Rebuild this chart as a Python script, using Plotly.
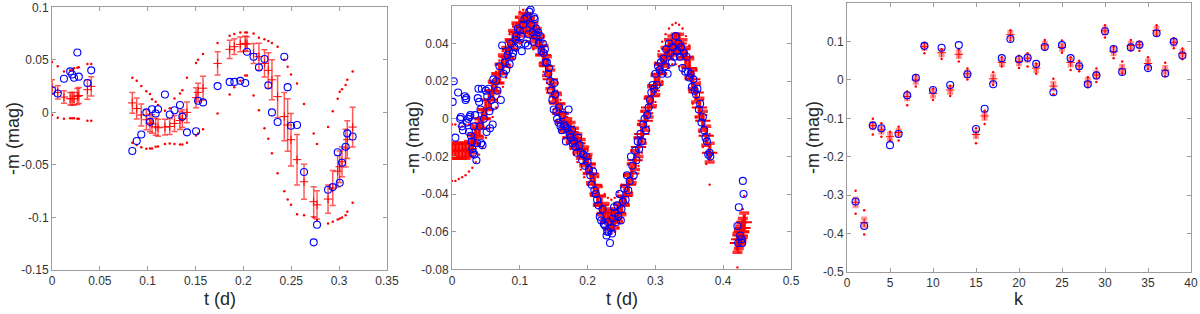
import plotly.graph_objects as go

# ---------------- Panel 1 data ----------------
t1 = [0.000, 0.006, 0.0125, 0.019, 0.021, 0.023, 0.0265, 0.028, 0.037, 0.041,
      0.0839, 0.0885, 0.0933, 0.0986, 0.1024, 0.1045, 0.1083, 0.1108, 0.118, 0.123,
      0.128, 0.1337, 0.1362, 0.141, 0.1505, 0.1526, 0.1578,
      0.173, 0.1856, 0.1905, 0.1967, 0.2019, 0.2037, 0.2106, 0.2162, 0.222, 0.226,
      0.2298, 0.2357, 0.2427, 0.2462, 0.2497, 0.256, 0.2633, 0.2734, 0.2769, 0.2884,
      0.2933, 0.2985, 0.3006, 0.303, 0.3068, 0.3085, 0.3141]
obs1 = [0.021, 0.018, 0.032, 0.039, 0.036, 0.033, 0.057, 0.034, 0.028, 0.040,
        -0.0368, -0.0273, -0.021, 0.000, -0.009, 0.003, -0.001, 0.003, 0.017, -0.002,
        0.002, 0.007, -0.004, -0.019, -0.018, 0.011, 0.0095,
        0.025, 0.029, 0.029, 0.030, 0.028, 0.0577, 0.053, 0.0428, 0.0508, 0.0257,
        0.000, -0.0092, 0.053, 0.024, -0.0127, -0.012, -0.0568, -0.1237, -0.107, -0.0736,
        -0.0711, -0.038, -0.067, -0.048, -0.0327, -0.020, -0.023]
mean1 = [0.024, 0.019, 0.0146, 0.013, 0.013, 0.013, 0.0152, 0.016, 0.0216, 0.0248,
         0.009, 0.0036, -0.0025, -0.007, -0.010, -0.011, -0.0137, -0.0146, -0.014, -0.0135,
         -0.0105, -0.0077, -0.006, 0.000, 0.014, 0.019, 0.023,
         0.0466, 0.060, 0.0625, 0.0647, 0.0657, 0.065, 0.056, 0.053, 0.0466, 0.040,
         0.031, 0.015, -0.004, -0.012, -0.026, -0.045, -0.066, -0.085, -0.088, -0.0825,
         -0.072, -0.056, -0.0517, -0.047, -0.034, -0.026, -0.014]
err1 = [0.007, 0.0063, 0.006, 0.006, 0.006, 0.006, 0.0076, 0.0076, 0.0092, 0.0092,
        0.0098, 0.010, 0.0105, 0.0095, 0.0084, 0.0088, 0.008, 0.008, 0.0075, 0.0075,
        0.0076, 0.0085, 0.0085, 0.0098, 0.0095, 0.0088, 0.0115,
        0.011, 0.0087, 0.0075, 0.007, 0.007, 0.007, 0.0095, 0.0127, 0.013, 0.0167,
        0.019, 0.0198, 0.023, 0.025, 0.025, 0.024, 0.0167, 0.0143, 0.0135, 0.0135,
        0.0167, 0.015, 0.015, 0.0143, 0.018, 0.018, 0.019]
hi1 = [0.048, 0.044, 0.039, 0.040, 0.040, 0.042, 0.0425, 0.043, 0.046, 0.046,
       0.033, 0.030, 0.025, 0.020, 0.0175, 0.0124, 0.010, 0.007, 0.0016, 0.004,
       0.0133, 0.018, 0.021, 0.033, 0.047, 0.050, 0.0555,
       0.066, 0.073, 0.0746, 0.076, 0.076, 0.076, 0.075, 0.071, 0.0695, 0.068,
       0.066, 0.0625, 0.050, 0.0435, 0.036, 0.0276, 0.008, -0.020, -0.030, -0.014,
       0.001, 0.013, 0.0197, 0.022, 0.026, 0.031, 0.039]
lo1 = [-0.0025, -0.005, -0.006, -0.0055, -0.0055, -0.0055, -0.006, -0.006, -0.008, -0.008,
       -0.029, -0.031, -0.0333, -0.0346, -0.0343, -0.0343, -0.0327, -0.0324, -0.030, -0.0295,
       -0.030, -0.0305, -0.0305, -0.029, -0.022, -0.020, -0.016,
       -0.001, 0.017, 0.024, 0.030, 0.035, 0.035, 0.016, 0.002, -0.015, -0.025,
       -0.039, -0.058, -0.075, -0.083, -0.088, -0.097, -0.098, -0.100, -0.1025, -0.1057,
       -0.104, -0.102, -0.101, -0.100, -0.098, -0.0945, -0.086]

# ---------------- Panel 2 data ----------------
t2obs = [0.001, 0.0025, 0.005, 0.009, 0.012, 0.013, 0.015, 0.016, 0.019, 0.02,
         0.021, 0.022, 0.024, 0.025, 0.026, 0.027, 0.028, 0.029, 0.03, 0.031,
         0.032, 0.033, 0.034, 0.036, 0.037, 0.038, 0.039, 0.04, 0.041, 0.042,
         0.043, 0.044, 0.045, 0.047, 0.05, 0.051, 0.052, 0.054, 0.055, 0.056,
         0.058, 0.06, 0.061, 0.063, 0.065, 0.067, 0.07, 0.072, 0.074, 0.076,
         0.078, 0.08, 0.082, 0.084, 0.085, 0.087, 0.089, 0.09, 0.092, 0.094,
         0.095, 0.097, 0.098, 0.1, 0.102, 0.103, 0.105, 0.107, 0.108, 0.11,
         0.112, 0.113, 0.114, 0.116, 0.117, 0.119, 0.12, 0.121, 0.122, 0.124,
         0.125, 0.127, 0.128, 0.13, 0.132, 0.134, 0.135, 0.137, 0.138, 0.14,
         0.142, 0.143, 0.145, 0.146, 0.148, 0.15, 0.151, 0.152, 0.154, 0.155,
         0.157, 0.158, 0.16, 0.162, 0.163, 0.165, 0.167, 0.168, 0.17, 0.172,
         0.174, 0.175, 0.177, 0.178, 0.18, 0.182, 0.184, 0.186, 0.188, 0.19,
         0.192, 0.194, 0.196, 0.198, 0.2, 0.202, 0.204, 0.206, 0.208, 0.21,
         0.212, 0.214, 0.216, 0.218, 0.22, 0.222, 0.224, 0.226, 0.228, 0.229,
         0.23, 0.231, 0.233, 0.234, 0.236, 0.237, 0.239, 0.24, 0.242, 0.244,
         0.245, 0.247, 0.249, 0.25, 0.252, 0.254, 0.256, 0.258, 0.26, 0.262,
         0.264, 0.266, 0.268, 0.27, 0.272, 0.274, 0.276, 0.278, 0.28, 0.282,
         0.284, 0.286, 0.288, 0.29, 0.292, 0.294, 0.296, 0.298, 0.3, 0.302,
         0.304, 0.306, 0.308, 0.31, 0.312, 0.314, 0.316, 0.318, 0.32, 0.322,
         0.324, 0.326, 0.328, 0.33, 0.332, 0.334, 0.336, 0.338, 0.34, 0.342,
         0.344, 0.346, 0.348, 0.35, 0.352, 0.354, 0.356, 0.358, 0.36, 0.362,
         0.364, 0.366, 0.368, 0.37, 0.372, 0.374, 0.376, 0.378, 0.38, 0.381,
         0.421, 0.422, 0.423, 0.425, 0.427, 0.428, 0.429, 0.43]
obs2 = [0.009, 0.020, -0.010, 0.014, 0.000, 0.001, -0.004, -0.006, 0.012, 0.010,
        0.011, -0.002, 0.000, -0.007, 0.001, 0.002, -0.009, -0.012, -0.016, -0.018,
        -0.004, -0.019, 0.002, -0.022, -0.013, 0.011, 0.016, 0.009, -0.004, 0.005,
        -0.013, 0.016, -0.014, 0.000, 0.015, -0.007, 0.012, 0.016, 0.004, -0.005,
        0.010, -0.003, 0.021, 0.007, 0.020, 0.015, 0.028, 0.010, 0.039, 0.024,
        0.030, 0.026, 0.034, 0.036, 0.029, 0.040, 0.033, 0.035, 0.038, 0.042,
        0.044, 0.048, 0.040, 0.047, 0.044, 0.036, 0.050, 0.053, 0.040, 0.054,
        0.039, 0.045, 0.057, 0.058, 0.050, 0.046, 0.041, 0.054, 0.053, 0.048,
        0.044, 0.046, 0.040, 0.044, 0.036, 0.040, 0.035, 0.037, 0.030, 0.030,
        0.024, 0.027, 0.020, 0.015, 0.010, 0.005, 0.019, 0.013, 0.004, 0.000,
        -0.002, 0.006, -0.004, -0.006, 0.002, -0.003, -0.004, -0.012, -0.005, 0.005,
        -0.008, -0.010, -0.006, -0.013, -0.012, -0.015, -0.018, -0.010, -0.014, -0.018,
        -0.022, -0.019, -0.025, -0.020, -0.023, -0.027, -0.030, -0.035, -0.028, -0.038,
        -0.040, -0.043, -0.046, -0.052, -0.054, -0.048, -0.056, -0.057, -0.062, -0.060,
        -0.055, -0.060, -0.066, -0.058, -0.061, -0.053, -0.047, -0.050, -0.055, -0.046,
        -0.052, -0.040, -0.054, -0.048, -0.044, -0.037, -0.043, -0.030, -0.038, -0.033,
        -0.020, -0.025, -0.030, -0.017, -0.022, -0.012, -0.016, -0.008, -0.012, -0.003,
        0.000, -0.006, 0.002, 0.006, 0.010, 0.014, 0.018, 0.016, 0.024, 0.018,
        0.028, 0.026, 0.030, 0.024, 0.032, 0.028, 0.037, 0.024, 0.040, 0.035,
        0.030, 0.038, 0.033, 0.044, 0.036, 0.040, 0.033, 0.038, 0.027, 0.035,
        0.025, 0.033, 0.025, 0.022, 0.024, 0.017, 0.021, 0.015, 0.013, 0.016,
        0.005, 0.008, -0.002, 0.001, -0.006, -0.010, -0.012, -0.019, -0.018, -0.020,
        -0.057, -0.066, -0.047, -0.062, -0.064, -0.066, -0.033, -0.040]

t2mod = [0.000, 0.005, 0.010, 0.015, 0.020, 0.025, 0.030, 0.035, 0.040, 0.045,
         0.050, 0.055, 0.060, 0.065, 0.070, 0.075, 0.080, 0.085, 0.090, 0.095,
         0.100, 0.105, 0.110, 0.115, 0.120, 0.125, 0.130, 0.135, 0.140, 0.145,
         0.150, 0.155, 0.160, 0.165, 0.170, 0.175, 0.180, 0.185, 0.190, 0.195,
         0.200, 0.205, 0.210, 0.215, 0.220, 0.225, 0.230, 0.235, 0.240, 0.245,
         0.250, 0.255, 0.260, 0.265, 0.270, 0.275, 0.280, 0.285, 0.290, 0.295,
         0.300, 0.305, 0.310, 0.315, 0.320, 0.325, 0.330, 0.335, 0.340, 0.345,
         0.350, 0.355, 0.360, 0.365, 0.370, 0.375, 0.380,
         0.421, 0.423, 0.425, 0.427, 0.429, 0.431]
mean2 = [-0.017, -0.017, -0.017, -0.017, -0.017, -0.016, -0.013, -0.009, -0.005, 0.000,
         0.005, 0.010, 0.015, 0.019, 0.024, 0.029, 0.033, 0.037, 0.042, 0.046,
         0.049, 0.051, 0.051, 0.049, 0.046, 0.043, 0.039, 0.034, 0.028, 0.021,
         0.014, 0.008, 0.003, -0.002, -0.005, -0.007, -0.010, -0.013, -0.016, -0.020,
         -0.024, -0.029, -0.035, -0.041, -0.046, -0.050, -0.053, -0.054, -0.053, -0.050,
         -0.046, -0.041, -0.035, -0.029, -0.022, -0.015, -0.008, -0.001, 0.006, 0.012,
         0.018, 0.024, 0.029, 0.033, 0.037, 0.039, 0.040, 0.040, 0.037, 0.033,
         0.027, 0.021, 0.014, 0.006, -0.001, -0.009, -0.018,
         -0.066, -0.064, -0.062, -0.060, -0.058, -0.055]
sd2 = [0.004, 0.004, 0.004, 0.004, 0.004, 0.004, 0.005, 0.005, 0.005, 0.005,
       0.005, 0.005, 0.005, 0.005, 0.005, 0.005, 0.005, 0.005, 0.005, 0.005,
       0.005, 0.005, 0.005, 0.005, 0.005, 0.005, 0.005, 0.005, 0.005, 0.005,
       0.005, 0.005, 0.005, 0.005, 0.005, 0.005, 0.005, 0.005, 0.005, 0.005,
       0.005, 0.005, 0.005, 0.005, 0.005, 0.005, 0.005, 0.005, 0.005, 0.005,
       0.005, 0.005, 0.005, 0.005, 0.005, 0.005, 0.005, 0.005, 0.005, 0.005,
       0.005, 0.005, 0.005, 0.005, 0.005, 0.005, 0.005, 0.005, 0.005, 0.005,
       0.005, 0.005, 0.005, 0.005, 0.005, 0.005, 0.005,
       0.005, 0.005, 0.005, 0.005, 0.005, 0.005]
hi2 = [-0.003, -0.003, -0.004, -0.004, -0.003, -0.003, -0.003, -0.002, 0.001, 0.005,
       0.010, 0.015, 0.020, 0.025, 0.031, 0.036, 0.041, 0.045, 0.050, 0.054,
       0.057, 0.058, 0.058, 0.056, 0.053, 0.050, 0.046, 0.041, 0.035, 0.028,
       0.021, 0.015, 0.010, 0.005, 0.001, -0.001, -0.004, -0.007, -0.010, -0.013,
       -0.017, -0.021, -0.026, -0.031, -0.036, -0.040, -0.042, -0.043, -0.042, -0.039,
       -0.035, -0.030, -0.024, -0.017, -0.010, -0.003, 0.004, 0.011, 0.018, 0.024,
       0.030, 0.036, 0.041, 0.045, 0.048, 0.050, 0.051, 0.050, 0.048, 0.044,
       0.039, 0.033, 0.026, 0.018, 0.010, 0.002, -0.008,
       None, None, None, None, None, None]
lo2 = [-0.033, -0.033, -0.032, -0.031, -0.030, -0.028, -0.026, -0.023, -0.019, -0.015,
       -0.010, -0.005, 0.001, 0.006, 0.012, 0.017, 0.022, 0.027, 0.032, 0.036,
       0.040, 0.041, 0.041, 0.040, 0.037, 0.034, 0.030, 0.025, 0.019, 0.012,
       0.005, -0.001, -0.006, -0.010, -0.013, -0.016, -0.019, -0.023, -0.027, -0.031,
       -0.035, -0.040, -0.045, -0.050, -0.055, -0.059, -0.061, -0.061, -0.060, -0.058,
       -0.054, -0.050, -0.045, -0.039, -0.032, -0.025, -0.018, -0.011, -0.004, 0.003,
       0.009, 0.015, 0.020, 0.024, 0.027, 0.029, 0.029, 0.028, 0.025, 0.021,
       0.015, 0.008, 0.001, -0.007, -0.015, -0.024, -0.035,
       -0.079, -0.071, -0.063, -0.056, -0.048, -0.041]

# ---------------- Panel 3 data ----------------
k3 = list(range(1, 40))
obs3 = [-0.317, -0.381, -0.119, -0.126, -0.170, -0.141, -0.040, 0.006, 0.089, -0.026,
        0.084, -0.013, 0.091, 0.015, -0.128, -0.075, -0.011, 0.057, 0.107, 0.054,
        0.058, 0.042, 0.086, -0.032, 0.091, 0.057, 0.036, -0.011, 0.012, 0.127,
        0.081, 0.021, 0.085, 0.092, 0.031, 0.122, 0.017, 0.100, 0.064]
mean3 = [-0.319, -0.372, -0.119, -0.130, -0.148, -0.137, -0.043, 0.000, 0.087, -0.035,
         0.071, -0.026, 0.067, 0.016, -0.142, -0.094, 0.003, 0.046, 0.118, 0.048,
         0.057, 0.031, 0.091, -0.016, 0.085, 0.046, 0.037, -0.005, 0.013, 0.128,
         0.074, 0.029, 0.090, 0.092, 0.043, 0.129, 0.026, 0.098, 0.069]
err3 = [0.010, 0.011, 0.007, 0.007, 0.008, 0.007, 0.007, 0.007, 0.006, 0.008,
        0.007, 0.008, 0.007, 0.006, 0.007, 0.007, 0.008, 0.007, 0.007, 0.007,
        0.007, 0.008, 0.006, 0.009, 0.006, 0.008, 0.006, 0.007, 0.007, 0.007,
        0.007, 0.008, 0.007, 0.006, 0.008, 0.007, 0.008, 0.006, 0.007]
hi3 = [-0.289, -0.340, -0.101, -0.113, -0.135, -0.122, -0.030, 0.013, 0.097, -0.022,
       0.080, -0.015, 0.080, 0.030, -0.126, -0.080, 0.020, 0.059, 0.130, 0.063,
       0.070, 0.043, 0.104, 0.003, 0.103, 0.059, 0.050, 0.007, 0.030, 0.143,
       0.087, 0.048, 0.104, 0.100, 0.059, 0.143, 0.045, 0.109, 0.082]
lo3 = [-0.349, -0.403, -0.142, -0.148, -0.158, -0.158, -0.066, -0.017, 0.070, -0.052,
       0.055, -0.042, 0.048, 0.001, -0.165, -0.115, -0.013, 0.035, 0.103, 0.031,
       0.035, 0.016, 0.078, -0.037, 0.071, 0.026, 0.023, -0.019, -0.005, 0.111,
       0.057, 0.016, 0.077, 0.076, 0.028, 0.116, 0.010, 0.083, 0.054]

# ---------------- Ticks ----------------
x1_ticks = [0, 0.05, 0.1, 0.15, 0.2, 0.25, 0.3, 0.35]
x1_text = ["0", "0.05", "0.1", "0.15", "0.2", "0.25", "0.3", "0.35"]
y1_ticks = [-0.15, -0.1, -0.05, 0, 0.05, 0.1]
y1_text = ["-0.15", "-0.1", "-0.05", "0", "0.05", "0.1"]
x2_ticks = [0, 0.1, 0.2, 0.3, 0.4, 0.5]
x2_text = ["0", "0.1", "0.2", "0.3", "0.4", "0.5"]
y2_ticks = [-0.08, -0.06, -0.04, -0.02, 0, 0.02, 0.04, 0.06]
y2_text = ["-0.08", "-0.06", "-0.04", "-0.02", "0", "0.02", "0.04", "0.06"]
x3_ticks = [0, 5, 10, 15, 20, 25, 30, 35, 40]
x3_text = ["0", "5", "10", "15", "20", "25", "30", "35", "40"]
y3_ticks = [-0.5, -0.4, -0.3, -0.2, -0.1, 0, 0.1, 0.2]
y3_text = ["-0.5", "-0.4", "-0.3", "-0.2", "-0.1", "0", "0.1", "0.2"]

RED = "#ff0000"
BLUE = "#0000ff"
ERRC = "rgba(255,0,0,0.65)"
FONT = "Liberation Sans, Arial, Helvetica, sans-serif"

fig = go.Figure()

def dots(x, y, xa, ya, size):
    return go.Scatter(x=x, y=y, mode="markers", xaxis=xa, yaxis=ya,
                      marker=dict(symbol="circle", size=size, color=RED))

def circles(x, y, xa, ya):
    return go.Scatter(x=x, y=y, mode="markers", xaxis=xa, yaxis=ya,
                      marker=dict(symbol="circle-open", size=7, color=BLUE,
                                  line=dict(width=1.1, color=BLUE)))

# Panel 1
fig.add_trace(go.Scatter(x=t1, y=mean1, mode="markers", xaxis="x", yaxis="y",
                         marker=dict(symbol="cross-thin", size=6, color=RED, line=dict(width=1, color=RED)),
                         error_y=dict(type="data", array=err1, color=ERRC, thickness=1.5, width=3)))
fig.add_trace(dots(t1, hi1, "x", "y", 2.5))
fig.add_trace(dots(t1, lo1, "x", "y", 2.5))
fig.add_trace(circles(t1, obs1, "x", "y"))

# Panel 2
fig.add_trace(go.Scatter(x=t2mod, y=mean2, mode="markers", xaxis="x2", yaxis="y2",
                         marker=dict(symbol="cross-thin", size=11, color=RED, line=dict(width=2, color=RED)),
                         error_y=dict(type="data", array=sd2, color="rgba(255,0,0,0.8)", thickness=3.5, width=5)))
fig.add_trace(dots(t2mod, hi2, "x2", "y2", 2.4))
fig.add_trace(dots(t2mod, lo2, "x2", "y2", 2.4))
fig.add_trace(circles(t2obs, obs2, "x2", "y2"))

# Panel 3
fig.add_trace(go.Scatter(x=k3, y=mean3, mode="markers", xaxis="x3", yaxis="y3",
                         marker=dict(symbol="cross-thin", size=6, color=RED, line=dict(width=1, color=RED)),
                         error_y=dict(type="data", array=err3, color="rgba(255,0,0,0.4)", thickness=4, width=3)))
fig.add_trace(dots(k3, hi3, "x3", "y3", 2.5))
fig.add_trace(dots(k3, lo3, "x3", "y3", 2.5))
fig.add_trace(circles(k3, obs3, "x3", "y3"))

W, H = 1200.0, 314.0
def xd(a, b):
    return [a / W, b / W]
def yd(top, bottom):
    return [1 - bottom / H, 1 - top / H]

axis_common = dict(showline=True, linecolor="#9c9c9c", linewidth=1, mirror="allticks",
                   ticks="inside", ticklen=4, tickcolor="#9c9c9c", tickwidth=1,
                   showgrid=False, zeroline=False, automargin=False,
                   tickfont=dict(family=FONT, size=12, color="#333333"))

fig.update_layout(
    width=1200, height=314,
    margin=dict(l=0, r=0, t=0, b=0, autoexpand=False),
    paper_bgcolor="white", plot_bgcolor="white",
    showlegend=False,
    xaxis=dict(domain=xd(52, 387), range=[0, 0.35], anchor="y", tickvals=x1_ticks, ticktext=x1_text, **axis_common),
    yaxis=dict(domain=yd(7.3, 270), range=[-0.15, 0.1], anchor="x", tickvals=y1_ticks, ticktext=y1_text, **axis_common),
    xaxis2=dict(domain=xd(452, 791), range=[0, 0.5], anchor="y2", tickvals=x2_ticks, ticktext=x2_text, **axis_common),
    yaxis2=dict(domain=yd(6, 269.3), range=[-0.08, 0.06], anchor="x2", tickvals=y2_ticks, ticktext=y2_text, **axis_common),
    xaxis3=dict(domain=xd(847, 1191), range=[0, 40], anchor="y3", tickvals=x3_ticks, ticktext=x3_text, **axis_common),
    yaxis3=dict(domain=yd(3.3, 271.7), range=[-0.5, 0.2], anchor="x3", tickvals=y3_ticks, ticktext=y3_text, **axis_common),
)

title_font = dict(family=FONT, size=18, color="#262626")
ann = []
for cx, txt in [(219.5, "t (d)"), (621.5, "t (d)"), (1019, "k")]:
    ann.append(dict(x=cx / W, y=1 - 299 / H, xref="paper", yref="paper", text=txt, showarrow=False,
                    xanchor="center", yanchor="middle", font=title_font))
for cx, cy in [(12.5, 138.5), (412.5, 137.5), (812.5, 137.5)]:
    ann.append(dict(x=cx / W, y=1 - cy / H, xref="paper", yref="paper", text="-m (mag)", showarrow=False,
                    xanchor="center", yanchor="middle", textangle=-90, font=title_font))
fig.update_layout(annotations=ann)

fig.write_html("out.html", config={"displayModeBar": False},
               post_script="document.body.style.margin='0';document.body.style.padding='0';document.body.style.overflow='hidden';")
